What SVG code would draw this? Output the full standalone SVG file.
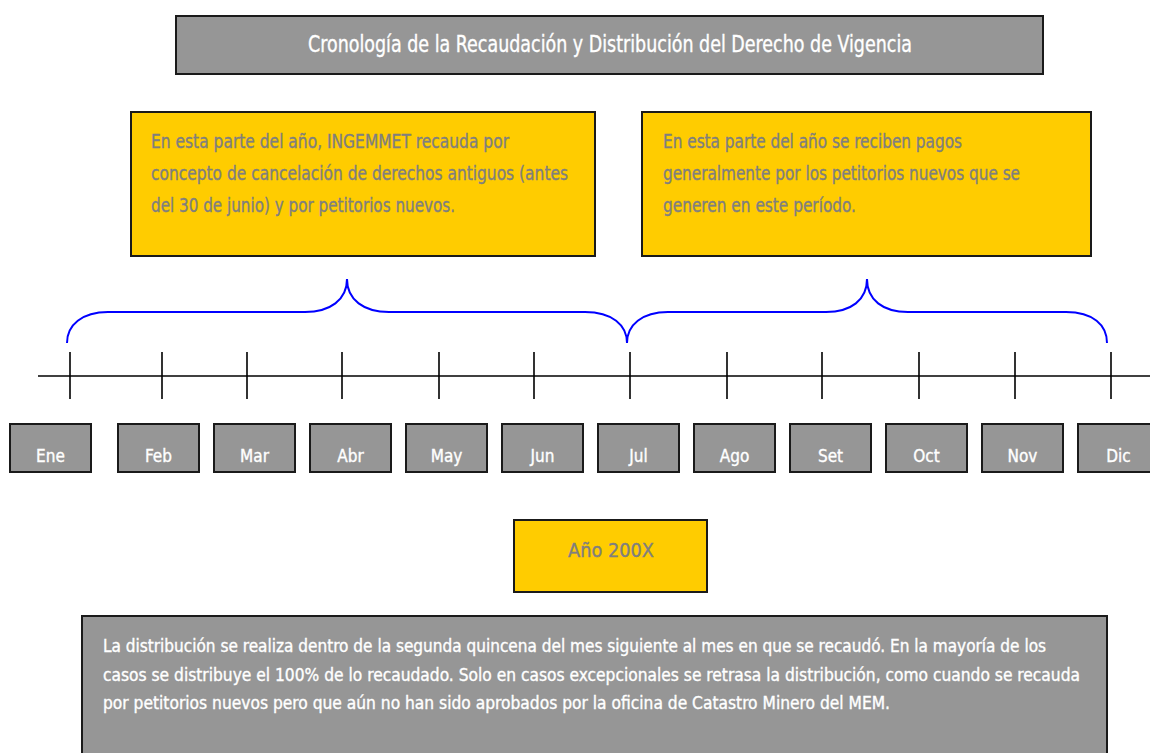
<svg xmlns="http://www.w3.org/2000/svg" width="1150" height="753" viewBox="0 0 1150 753">
<style>
.box{stroke:#1a1a1a;stroke-width:2}
.gray{fill:#969696}
.yel{fill:#ffcc00}
.t{font-family:"Liberation Sans Narrow","DejaVu Sans Condensed","Roboto","Liberation Sans",sans-serif;font-stretch:condensed;stroke-width:0.35}
.w{fill:#ffffff;stroke:#ffffff}
.g{fill:#7f7f7f;stroke:#7f7f7f}
.axis{stroke:#000;stroke-width:1.6;fill:none}
.brace{stroke:#0000ff;stroke-width:2;fill:none}
.m{font-size:17px;text-anchor:middle}
</style>
<rect width="1150" height="753" fill="#ffffff"/>
<g id="title">
<rect class="box gray" x="176" y="16" width="867" height="58"/>
<text class="t w" x="308" y="52" font-size="23" textLength="604" lengthAdjust="spacingAndGlyphs">Cronología de la Recaudación y Distribución del Derecho de Vigencia</text>
</g>
<g id="note-first-half">
<rect class="box yel" x="131" y="112" width="464" height="144"/>
<text class="t g" x="151" y="148" font-size="19.5" textLength="358" lengthAdjust="spacingAndGlyphs">En esta parte del año, INGEMMET recauda por</text>
<text class="t g" x="151" y="180" font-size="19.5" textLength="417" lengthAdjust="spacingAndGlyphs">concepto de cancelación de derechos antiguos (antes</text>
<text class="t g" x="151" y="212" font-size="19.5" textLength="304" lengthAdjust="spacingAndGlyphs">del 30 de junio) y por petitorios nuevos.</text>
</g>
<g id="note-second-half">
<rect class="box yel" x="642" y="112" width="449" height="144"/>
<text class="t g" x="663" y="148" font-size="19.5" textLength="299" lengthAdjust="spacingAndGlyphs">En esta parte del año se reciben pagos</text>
<text class="t g" x="663" y="180" font-size="19.5" textLength="357" lengthAdjust="spacingAndGlyphs">generalmente por los petitorios nuevos que se</text>
<text class="t g" x="663" y="212" font-size="19.5" textLength="193" lengthAdjust="spacingAndGlyphs">generen en este período.</text>
</g>
<g id="connectors">
<path class="brace" d="M67,343 C67,325 82,312 108,312 L305,312 C330,312 347,300 347,279 C347,300 364,312 389,312 L585,312 C612,312 627,325 627,343 C627,325 642,312 668,312 L826,312 C851,312 867,300 867,279 C867,300 883,312 908,312 L1066,312 C1093,312 1107,325 1107,343"/>
<line class="axis" x1="38" y1="376" x2="1150" y2="376"/>
<path class="axis" d="M70,352V399M162,352V399M247,352V399M342,352V399M439,352V399M534,352V399M630,352V399M727,352V399M822,352V399M919,352V399M1015,352V399M1111,352V399"/>
</g>
<g id="month-ene"><rect class="box gray" x="10" y="424" width="81" height="48"/><text class="t w m" x="50.5" y="462">Ene</text></g>
<g id="month-feb"><rect class="box gray" x="118" y="424" width="81" height="48"/><text class="t w m" x="158.5" y="462">Feb</text></g>
<g id="month-mar"><rect class="box gray" x="214" y="424" width="81" height="48"/><text class="t w m" x="254.5" y="462">Mar</text></g>
<g id="month-abr"><rect class="box gray" x="310" y="424" width="81" height="48"/><text class="t w m" x="350.5" y="462">Abr</text></g>
<g id="month-may"><rect class="box gray" x="406" y="424" width="81" height="48"/><text class="t w m" x="446.5" y="462">May</text></g>
<g id="month-jun"><rect class="box gray" x="502" y="424" width="81" height="48"/><text class="t w m" x="542.5" y="462">Jun</text></g>
<g id="month-jul"><rect class="box gray" x="598" y="424" width="81" height="48"/><text class="t w m" x="638.5" y="462">Jul</text></g>
<g id="month-ago"><rect class="box gray" x="694" y="424" width="81" height="48"/><text class="t w m" x="734.5" y="462">Ago</text></g>
<g id="month-set"><rect class="box gray" x="790" y="424" width="81" height="48"/><text class="t w m" x="830.5" y="462">Set</text></g>
<g id="month-oct"><rect class="box gray" x="886" y="424" width="81" height="48"/><text class="t w m" x="926.5" y="462">Oct</text></g>
<g id="month-nov"><rect class="box gray" x="982" y="424" width="81" height="48"/><text class="t w m" x="1022.5" y="462">Nov</text></g>
<g id="month-dic"><rect class="box gray" x="1078" y="424" width="81" height="48"/><text class="t w m" x="1118.5" y="462">Dic</text></g>
<g id="year">
<rect class="box yel" x="514" y="520" width="193" height="72"/>
<text class="t g" x="568" y="557" font-size="20" textLength="86" lengthAdjust="spacingAndGlyphs">Año 200X</text>
</g>
<g id="distribution-note">
<rect class="box gray" x="82" y="616" width="1025" height="150"/>
<text class="t w" x="103" y="652" font-size="17.5" textLength="943" lengthAdjust="spacingAndGlyphs">La distribución se realiza dentro de la segunda quincena del mes siguiente al mes en que se recaudó. En la mayoría de los</text>
<text class="t w" x="103" y="681" font-size="17.5" textLength="977" lengthAdjust="spacingAndGlyphs">casos se distribuye el 100% de lo recaudado. Solo en casos excepcionales se retrasa la distribución, como cuando se recauda</text>
<text class="t w" x="103" y="709" font-size="17.5" textLength="787" lengthAdjust="spacingAndGlyphs">por petitorios nuevos pero que aún no han sido aprobados por la oficina de Catastro Minero del MEM.</text>
</g>
</svg>
